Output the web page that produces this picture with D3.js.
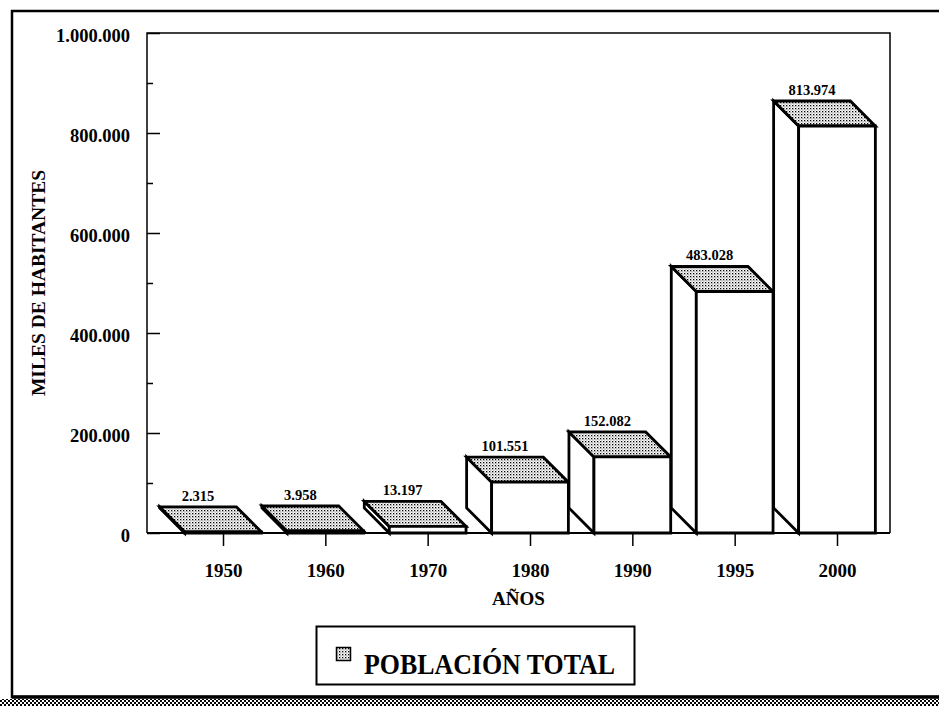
<!DOCTYPE html>
<html>
<head>
<meta charset="utf-8">
<script src="https://cdn.jsdelivr.net/npm/d3@7"></script>
<style>
  html, body { margin: 0; padding: 0; background: #fff; }
  svg { display: block; }
</style>
</head>
<body>
<svg id="chart" width="939" height="706"></svg>
<script>
// Población total por año (miles de habitantes)
const years = ["1950", "1960", "1970", "1980", "1990", "1995", "2000"];
const population = [2315, 3958, 13197, 101551, 152082, 483028, 813974];
const yMajorTicks = [0, 200000, 400000, 600000, 800000, 1000000];
const yMinorTicks = [100000, 300000, 500000, 700000, 900000];
const seriesName = "POBLACIÓN TOTAL";
const xTitle = "AÑOS";
const yTitle = "MILES DE HABITANTES";

const W = 939, H = 706;
const plot = { left: 147, right: 890, top: 33, bottom: 533 };
const depth = 25;
const SERIF = "Liberation Serif";

const es = d3.formatLocale({ decimal: ",", thousands: ".", grouping: [3], currency: ["", ""] });
const fmt = es.format(",d");

const svg = d3.select("#chart");
const defs = svg.append("defs");

// stippled fill for the top faces and legend swatch
const dots = defs.append("pattern")
  .attr("id", "dots").attr("patternUnits", "userSpaceOnUse")
  .attr("width", 3).attr("height", 3);
dots.append("rect").attr("width", 3).attr("height", 3).attr("fill", "#fff");
dots.append("rect").attr("x", 0).attr("y", 0).attr("width", 1.3).attr("height", 1.3).attr("fill", "#000");
dots.append("rect").attr("x", 1.5).attr("y", 1.5).attr("width", 1.0).attr("height", 1.0).attr("fill", "#555");

// coarse dotted band under the frame
const band = defs.append("pattern")
  .attr("id", "band").attr("patternUnits", "userSpaceOnUse")
  .attr("width", 4).attr("height", 4);
band.append("rect").attr("width", 4).attr("height", 4).attr("fill", "#fff");
band.append("rect").attr("x", 0).attr("y", 0).attr("width", 2).attr("height", 2).attr("fill", "#000");
band.append("rect").attr("x", 2).attr("y", 2).attr("width", 2).attr("height", 2).attr("fill", "#000");

// outer frame
svg.append("rect").attr("x", 0).attr("y", 699).attr("width", W).attr("height", 7).attr("fill", "url(#band)");
svg.append("path")
  .attr("d", `M${W},11 L12,11 L12,697 L${W},697`)
  .attr("fill", "none").attr("stroke", "#000").attr("stroke-width", 2.5);
svg.append("line").attr("x1", 12).attr("x2", W).attr("y1", 697).attr("y2", 697)
  .attr("stroke", "#000").attr("stroke-width", 3.5);

// scales
const x = d3.scalePoint().domain(years).range([plot.left + 76, plot.right - 53]);
const y = d3.scaleLinear().domain([0, 1000000]).range([plot.bottom, plot.top]);
const barW = x.step() * 0.75;

// plot frame
svg.append("path")
  .attr("d", `M${plot.left},${plot.bottom} L${plot.left},${plot.top} L${plot.right},${plot.top} L${plot.right},${plot.bottom}`)
  .attr("fill", "none").attr("stroke", "#000").attr("stroke-width", 1.5);

// y axis: major ticks with labels, minor ticks without
const yAxis = svg.append("g").attr("transform", `translate(${plot.left},0)`)
  .call(d3.axisLeft(y).tickValues(yMajorTicks).tickSizeInner(-13).tickSizeOuter(0)
    .tickPadding(17).tickFormat(fmt));
yAxis.select(".domain").remove();
yAxis.selectAll(".tick line").attr("stroke-width", 1.5);
yAxis.selectAll(".tick text").attr("dy", "0.48em")
  .attr("font-family", SERIF).attr("font-weight", "bold").attr("font-size", 18.5);

const yMinor = svg.append("g").attr("transform", `translate(${plot.left},0)`)
  .call(d3.axisLeft(y).tickValues(yMinorTicks).tickSizeInner(-6).tickSizeOuter(0).tickFormat(""));
yMinor.select(".domain").remove();
yMinor.selectAll(".tick line").attr("stroke-width", 1.5);

// x axis
const xAxis = svg.append("g").attr("transform", `translate(0,${plot.bottom})`)
  .call(d3.axisBottom(x).tickSizeInner(13).tickSizeOuter(0).tickPadding(18));
xAxis.select(".domain").remove();
xAxis.selectAll(".tick line").attr("stroke-width", 1.5);
xAxis.selectAll(".tick text")
  .attr("font-family", SERIF).attr("font-weight", "bold").attr("font-size", 19);

// 3D boxes
const bars = svg.append("g").selectAll("g").data(years.map((yr, i) => ({ yr, v: population[i] })))
  .join("g");

bars.each(function (d) {
  const g = d3.select(this);
  const x0 = x(d.yr) - barW / 2, x1 = x(d.yr) + barW / 2;
  const yt = y(d.v), yb = y(0);
  const faces = [
    [`M${x0 - depth},${yt - depth} L${x0},${yt} L${x0},${yb} L${x0 - depth},${yb - depth} Z`, "#fff"],
    [`M${x0 - depth},${yt - depth} L${x1 - depth},${yt - depth} L${x1},${yt} L${x0},${yt} Z`, "url(#dots)"],
    [`M${x0},${yt} L${x1},${yt} L${x1},${yb} L${x0},${yb} Z`, "#fff"]
  ];
  faces.forEach(([p, fill]) => g.append("path").attr("d", p).attr("fill", fill)
    .attr("stroke", "#000").attr("stroke-width", 2.8).attr("stroke-linejoin", "miter"));
  g.append("text")
    .attr("x", x(d.yr) - depth).attr("y", yt - depth - 6)
    .attr("text-anchor", "middle")
    .attr("font-family", SERIF).attr("font-weight", "bold").attr("font-size", 14.5)
    .text(fmt(d.v));
});

// x-axis baseline
svg.append("line")
  .attr("x1", plot.left).attr("x2", plot.right).attr("y1", plot.bottom).attr("y2", plot.bottom)
  .attr("stroke", "#000").attr("stroke-width", 2.2);

// axis titles
svg.append("text")
  .attr("x", (plot.left + plot.right) / 2).attr("y", 605)
  .attr("text-anchor", "middle")
  .attr("font-family", SERIF).attr("font-weight", "bold").attr("font-size", 19)
  .text(xTitle);
svg.append("text")
  .attr("transform", `translate(45,${(plot.top + plot.bottom) / 2}) rotate(-90)`)
  .attr("text-anchor", "middle")
  .attr("font-family", SERIF).attr("font-weight", "bold").attr("font-size", 19.5)
  .text(yTitle);

// legend
const lg = svg.append("g");
lg.append("rect").attr("x", 316.5).attr("y", 626.5).attr("width", 318).attr("height", 58)
  .attr("fill", "#fff").attr("stroke", "#000").attr("stroke-width", 2);
lg.append("rect").attr("x", 336.5).attr("y", 647.5).attr("width", 14).attr("height", 13)
  .attr("fill", "url(#dots)").attr("stroke", "#000").attr("stroke-width", 1.5);
lg.append("text").attr("x", 364).attr("y", 673.5)
  .attr("font-family", SERIF).attr("font-weight", "bold").attr("font-size", 29)
  .attr("textLength", 251).attr("lengthAdjust", "spacingAndGlyphs")
  .text(seriesName);
</script>
</body>
</html>
